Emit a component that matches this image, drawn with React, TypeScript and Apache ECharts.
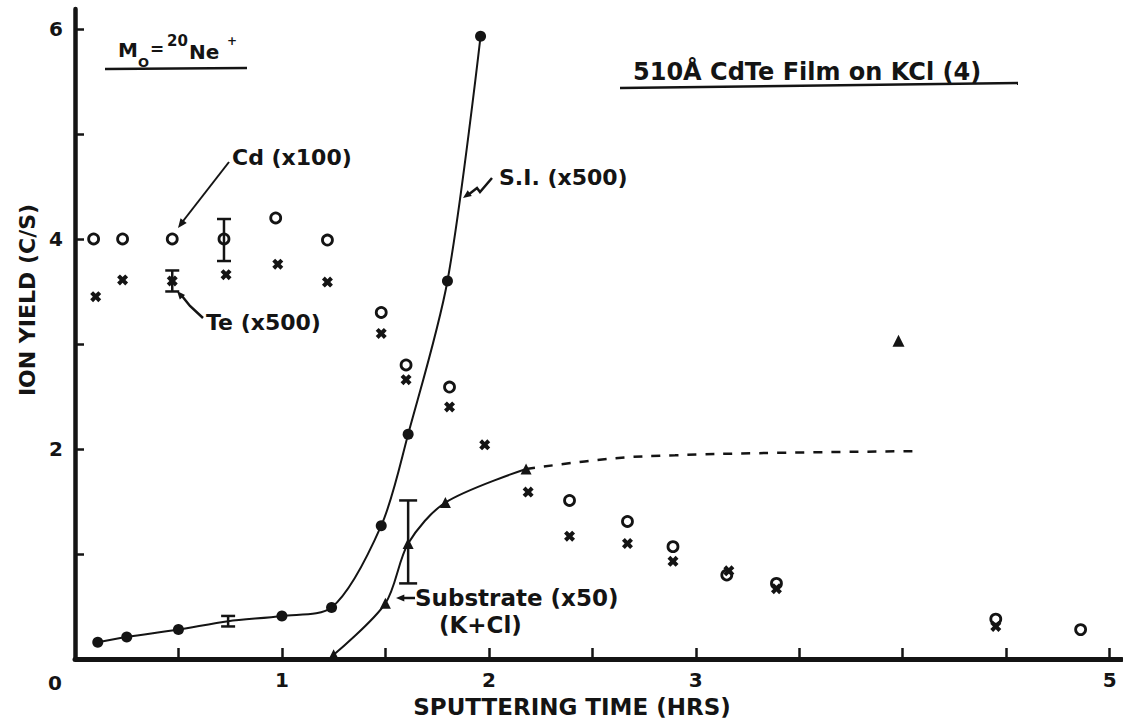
import React, { useEffect, useRef } from 'react';
import * as echarts from 'echarts';

// ---- axis ticks / labels ----
const xTickValues = [0.5, 1, 1.5, 2, 2.5, 3, 3.5, 4, 4.5, 5];
const xLabelValues = [1, 2, 3, 5];
const yTickValues = [1, 2, 3, 4, 5, 6];
const yLabelValues = [2, 4, 6];

// ---- S.I. (x500), filled circles with smooth curve ----
const siTime = [0.11, 0.25, 0.5, 0.74, 1.0, 1.24, 1.48, 1.61, 1.8, 1.96];
const siYield = [0.16, 0.21, 0.28, 0.36, 0.41, 0.49, 1.27, 2.14, 3.6, 5.93];

// ---- Substrate (x50) (K+Cl), triangles ----
const subTime = [1.25, 1.5, 1.61, 1.79, 2.18];
const subYield = [0.04, 0.53, 1.1, 1.49, 1.81];
const subExtTime = [2.18, 2.6, 2.9, 3.3, 4.07];
const subExtYield = [1.81, 1.91, 1.94, 1.96, 1.98];
const subOutlierTime = [3.98];
const subOutlierYield = [3.03];

// ---- Cd (x100), open circles ----
const cdTime = [0.09, 0.23, 0.47, 0.72, 0.97, 1.22, 1.48, 1.6, 1.81, 2.39, 2.67, 2.89, 3.15, 3.39, 4.45, 4.86];
const cdYield = [4.0, 4.0, 4.0, 4.0, 4.2, 3.99, 3.3, 2.8, 2.59, 1.51, 1.31, 1.07, 0.8, 0.72, 0.38, 0.28];

// ---- Te (x500), crosses ----
const teTime = [0.1, 0.23, 0.47, 0.73, 0.98, 1.22, 1.48, 1.6, 1.81, 1.98, 2.19, 2.39, 2.67, 2.89, 3.16, 3.39, 4.45];
const teYield = [3.45, 3.61, 3.6, 3.66, 3.76, 3.59, 3.1, 2.66, 2.4, 2.04, 1.59, 1.17, 1.1, 0.93, 0.84, 0.67, 0.31];

// ---- error bars ----
const errTime = [0.74, 0.72, 0.47, 1.61];
const errLow = [0.31, 3.79, 3.5, 0.72];
const errHigh = [0.41, 4.19, 3.7, 1.51];

const INK = '#141414';
const FONT = '"DejaVu Sans", "Liberation Sans", sans-serif';
const CROSS = 'path://M0,2.6 L2.6,0 L5,2.4 L7.4,0 L10,2.6 L7.6,5 L10,7.4 L7.4,10 L5,7.6 L2.6,10 L0,7.4 L2.4,5 Z';

function zip(a: number[], b: number[]) {
  return a.map((v, i) => [v, b[i]]);
}

function arrowHead(x1: number, y1: number, x2: number, y2: number, size = 8) {
  const ang = Math.atan2(y2 - y1, x2 - x1);
  const a1 = ang + Math.PI - 0.4;
  const a2 = ang + Math.PI + 0.4;
  return {
    type: 'polygon',
    shape: {
      points: [
        [x2, y2],
        [x2 + size * Math.cos(a1), y2 + size * Math.sin(a1)],
        [x2 + size * Math.cos(a2), y2 + size * Math.sin(a2)],
      ],
    },
    style: { fill: INK },
  };
}

function txt(text: string, x: number, y: number, size: number, align = 'left', extra: any = {}) {
  return {
    type: 'text',
    x,
    y,
    ...extra,
    style: {
      text,
      fill: INK,
      font: `bold ${size}px ${FONT}`,
      align,
      verticalAlign: 'middle',
    },
  };
}

function line(x1: number, y1: number, x2: number, y2: number, w = 2) {
  return { type: 'line', shape: { x1, y1, x2, y2 }, style: { stroke: INK, lineWidth: w } };
}

export default function App() {
  const ref = useRef<HTMLDivElement>(null);
  useEffect(() => {
    const chart = echarts.init(ref.current!, null, { renderer: 'svg' });
    const option: any = {
      animation: false,
      backgroundColor: '#ffffff',
      grid: { left: 75, right: 1, top: 9, bottom: 62, containLabel: false },
      xAxis: {
        type: 'value',
        min: 0,
        max: 5.06,
        splitLine: { show: false },
        axisLine: { show: true, onZero: false, lineStyle: { color: INK, width: 5 } },
        axisTick: { show: true, inside: true, length: 11, customValues: xTickValues, lineStyle: { color: INK, width: 2.5 } },
        axisLabel: {
          show: true,
          customValues: xLabelValues,
          margin: 11,
          color: INK,
          fontFamily: 'DejaVu Sans',
          fontWeight: 700,
          fontSize: 20,
        },
      },
      yAxis: {
        type: 'value',
        min: 0,
        max: 6.19,
        splitLine: { show: false },
        axisLine: { show: true, onZero: false, lineStyle: { color: INK, width: 4.5 } },
        axisTick: { show: true, inside: true, length: 9, customValues: yTickValues, lineStyle: { color: INK, width: 2.5 } },
        axisLabel: {
          show: true,
          customValues: yLabelValues,
          margin: 12,
          color: INK,
          fontFamily: 'DejaVu Sans',
          fontWeight: 700,
          fontSize: 20,
        },
      },
      series: [
        {
          name: 'S.I. (x500)',
          type: 'line',
          smooth: 0.3,
          data: zip(siTime, siYield).map((p, i) => (i === 3 ? { value: p, symbol: 'none' } : p)),
          symbol: 'circle',
          symbolSize: 11,
          itemStyle: { color: INK, opacity: 1 },
          lineStyle: { color: INK, width: 2 },
          z: 3,
        },
        {
          name: 'Substrate (x50)',
          type: 'line',
          smooth: 0.3,
          data: zip(subTime, subYield),
          symbol: 'triangle',
          symbolSize: 11,
          itemStyle: { color: INK, opacity: 1 },
          lineStyle: { color: INK, width: 2 },
          z: 3,
        },
        {
          name: 'Substrate extrapolated',
          type: 'line',
          smooth: 0.4,
          data: zip(subExtTime, subExtYield),
          symbol: 'none',
          lineStyle: { color: INK, width: 2.5, type: [9, 9] },
          z: 2,
        },
        {
          name: 'Substrate point',
          type: 'scatter',
          data: zip(subOutlierTime, subOutlierYield),
          symbol: 'triangle',
          symbolSize: 12,
          itemStyle: { color: INK, opacity: 1 },
          z: 4,
        },
        {
          name: 'Cd (x100)',
          type: 'scatter',
          data: zip(cdTime, cdYield),
          symbol: 'circle',
          symbolSize: 10,
          itemStyle: { color: '#ffffff', borderColor: INK, borderWidth: 2.8, opacity: 1 },
          z: 4,
        },
        {
          name: 'Te (x500)',
          type: 'scatter',
          data: zip(teTime, teYield),
          symbol: CROSS,
          symbolSize: 11,
          itemStyle: { color: INK, opacity: 1 },
          z: 4,
        },
        {
          name: 'error bars',
          type: 'custom',
          data: errTime.map((t, i) => [t, errLow[i], errHigh[i]]),
          encode: { x: 0, y: [1, 2] },
          z: 5,
          renderItem: (params: any, api: any) => {
            const t = api.value(0);
            const lo = api.coord([t, api.value(1)]);
            const hi = api.coord([t, api.value(2)]);
            const w = params.dataIndex === 3 ? 9 : 7;
            const st = { stroke: INK, lineWidth: 2.5 };
            return {
              type: 'group',
              children: [
                { type: 'line', shape: { x1: lo[0], y1: lo[1], x2: hi[0], y2: hi[1] }, style: st },
                { type: 'line', shape: { x1: lo[0] - w, y1: lo[1], x2: lo[0] + w, y2: lo[1] }, style: st },
                { type: 'line', shape: { x1: hi[0] - w, y1: hi[1], x2: hi[0] + w, y2: hi[1] }, style: st },
              ],
            };
          },
        },
      ],
      graphic: [
        // y axis title
        txt('ION YIELD (C/S)', 27, 300, 22, 'center', { rotation: Math.PI / 2 }),
        // x axis title
        txt('SPUTTERING TIME (HRS)', 572, 707, 23, 'center'),
        // origin label
        txt('0', 55, 683, 20, 'center'),
        // M0 = 20Ne+
        txt('M', 118, 50, 20),
        txt('O', 138, 62, 13),
        txt('=', 150, 49, 17),
        txt('20', 167, 41, 15),
        txt('Ne', 189, 52, 20),
        txt('+', 227, 41, 12),
        line(105, 69, 247, 68, 2.5),
        // title
        txt('510Å CdTe Film on KCl (4)', 633, 72, 24),
        line(620, 88, 1018, 83, 2.5),
        // Cd label + leader
        txt('Cd (x100)', 232, 157, 22),
        line(229, 162, 180, 225, 2),
        arrowHead(229, 162, 178, 228, 10),
        // Te label + leader
        txt('Te (x500)', 206, 322, 22),
        { type: 'polyline', shape: { points: [[203, 318], [190, 306], [182, 296]] }, style: { stroke: INK, lineWidth: 2.5, fill: 'none' } },
        arrowHead(190, 306, 177, 291, 9),
        // S.I. label + leader
        txt('S.I. (x500)', 499, 177, 22),
        { type: 'polyline', shape: { points: [[492, 178], [480, 192], [477, 188], [468, 195]] }, style: { stroke: INK, lineWidth: 2.5, fill: 'none' } },
        arrowHead(477, 188, 463, 198, 9),
        // Substrate label + arrow
        line(415, 598, 402, 598, 2.5),
        arrowHead(415, 598, 396, 598, 9),
        txt('Substrate (x50)', 415, 598, 23),
        txt('(K+Cl)', 439, 625, 23),
      ],
    };
    chart.setOption(option);
    return () => chart.dispose();
  }, []);
  return (
    <div
      ref={ref}
      style={{ position: 'fixed', left: 0, top: 0, width: 1123, height: 721, background: '#fff' }}
    />
  );
}
